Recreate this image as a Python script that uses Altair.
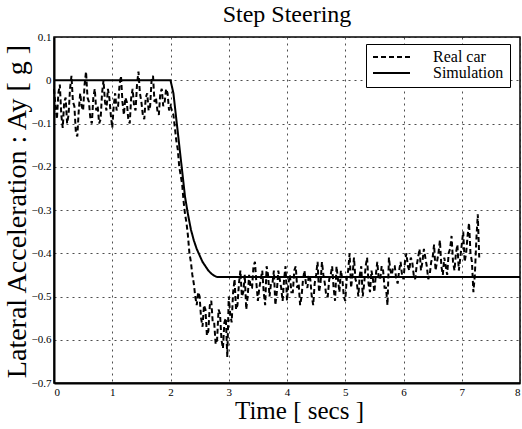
import altair as alt
import pandas as pd

# Real car measurement (time step 0.025 s from 0.000 to 7.300 s)
real_t0 = 0.0
real_dt = 0.025
real_vals = [
    -0.02, -0.06, -0.09, -0.03, -0.01, -0.08, -0.11, -0.05, -0.04, -0.10,
    -0.08, -0.02, 0.01, -0.05, -0.06, -0.12, -0.13, -0.07, -0.03, -0.06,
    -0.07, -0.01, 0.02, -0.04, -0.05, -0.09, -0.10, -0.04, -0.02, -0.07,
    -0.06, -0.10, -0.09, -0.03, 0.00, -0.05, -0.07, -0.02, -0.04, -0.08,
    -0.11, -0.06, -0.03, -0.07, -0.06, -0.01, 0.01, -0.05, -0.08, -0.04,
    -0.05, -0.09, -0.10, -0.04, -0.02, -0.06, -0.07, -0.01, 0.02, -0.03,
    -0.05, -0.08, -0.09, -0.04, -0.03, -0.07, -0.06, 0.00, 0.01, -0.05,
    -0.04, -0.07, -0.08, -0.03, -0.02, -0.06, -0.05, -0.02, -0.03, -0.07,
    -0.06, -0.07, -0.08, -0.11, -0.14, -0.16, -0.20, -0.22, -0.24, -0.28,
    -0.31, -0.33, -0.36, -0.40, -0.42, -0.45, -0.47, -0.50, -0.52, -0.49,
    -0.50, -0.55, -0.57, -0.52, -0.53, -0.59, -0.58, -0.52, -0.51, -0.56,
    -0.56, -0.61, -0.60, -0.53, -0.54, -0.60, -0.62, -0.56, -0.55, -0.64,
    -0.50, -0.54, -0.56, -0.49, -0.46, -0.53, -0.52, -0.47, -0.44, -0.50,
    -0.49, -0.45, -0.53, -0.50, -0.45, -0.48, -0.48, -0.43, -0.42, -0.47,
    -0.51, -0.48, -0.46, -0.44, -0.49, -0.52, -0.43, -0.45, -0.50, -0.47,
    -0.47, -0.44, -0.52, -0.49, -0.44, -0.46, -0.48, -0.51, -0.46, -0.43,
    -0.51, -0.47, -0.45, -0.49, -0.49, -0.44, -0.43, -0.48, -0.47, -0.52,
    -0.50, -0.46, -0.44, -0.47, -0.48, -0.45, -0.46, -0.50, -0.52, -0.47,
    -0.45, -0.42, -0.49, -0.47, -0.42, -0.45, -0.47, -0.50, -0.50, -0.46,
    -0.45, -0.43, -0.48, -0.51, -0.43, -0.46, -0.49, -0.44, -0.46, -0.50,
    -0.51, -0.46, -0.44, -0.40, -0.48, -0.45, -0.41, -0.46, -0.47, -0.50,
    -0.45, -0.43, -0.50, -0.47, -0.43, -0.41, -0.47, -0.49, -0.44, -0.46,
    -0.49, -0.45, -0.42, -0.46, -0.46, -0.43, -0.44, -0.48, -0.48, -0.52,
    -0.41, -0.44, -0.45, -0.43, -0.43, -0.46, -0.47, -0.44, -0.42, -0.45,
    -0.46, -0.42, -0.40, -0.43, -0.44, -0.41, -0.42, -0.45, -0.46, -0.43,
    -0.41, -0.39, -0.44, -0.42, -0.39, -0.41, -0.43, -0.46, -0.45, -0.42,
    -0.41, -0.38, -0.44, -0.42, -0.40, -0.37, -0.43, -0.45, -0.41, -0.43,
    -0.45, -0.40, -0.39, -0.36, -0.42, -0.44, -0.40, -0.38, -0.44, -0.41,
    -0.38, -0.35, -0.42, -0.40, -0.36, -0.33, -0.40, -0.42, -0.49, -0.45,
    -0.37, -0.31, -0.41,
]

# Simulation
sim_t = [0.0, 2.0, 2.05, 2.10, 2.15, 2.20, 2.25, 2.30, 2.35, 2.40, 2.45,
         2.50, 2.55, 2.60, 2.65, 2.70, 2.75, 2.80, 8.0]
sim_vals = [0.0, 0.0, -0.03, -0.09, -0.15, -0.21, -0.27, -0.31, -0.345, -0.37,
            -0.39, -0.405, -0.42, -0.43, -0.44, -0.447, -0.452, -0.455, -0.455]

x_ticks = [0, 1, 2, 3, 4, 5, 6, 7, 8]
y_ticks = [0.1, 0.0, -0.1, -0.2, -0.3, -0.4, -0.5, -0.6, -0.7]
series_names = ["Real car", "Simulation"]

rows = []
for i, v in enumerate(real_vals):
    rows.append({"t": round(real_t0 + i * real_dt, 4), "ay": v, "series": series_names[0], "order": i})
for i, (t, v) in enumerate(zip(sim_t, sim_vals)):
    rows.append({"t": t, "ay": v, "series": series_names[1], "order": i})
df = pd.DataFrame(rows)

font = "Liberation Serif"

chart = alt.Chart(df).mark_line(color="black", strokeWidth=2).encode(
    x=alt.X("t:Q", scale=alt.Scale(domain=[0, 8], nice=False),
            axis=alt.Axis(values=x_ticks, title="Time [ secs ]", format="d",
                          titleX=245, titleY=35, titleBaseline="alphabetic",
                          titleFontSize=25)),
    y=alt.Y("ay:Q", scale=alt.Scale(domain=[-0.7, 0.1], nice=False),
            axis=alt.Axis(values=y_ticks, title="Lateral Acceleration : Ay [ g ]",
                          labelExpr="datum.value == 0 ? '0' : format(datum.value, '.1f')",
                          titleX=-29, titleY=174, titleBaseline="alphabetic",
                          titleFontSize=28)),
    strokeDash=alt.StrokeDash("series:N",
                              scale=alt.Scale(domain=series_names, range=[[5, 3], [1, 0]]),
                              legend=alt.Legend(title=None, orient="none", legendX=312, legendY=7,
                                                symbolType="stroke", symbolSize=1369,
                                                symbolStrokeWidth=2, symbolStrokeColor="black",
                                                labelFont=font, labelFontSize=16, labelColor="black",
                                                fillColor="white", strokeColor="black",
                                                padding=6, rowPadding=0, clipHeight=14,
                                                labelOffset=22)),
    detail="series:N",
    order="order:Q",
).properties(
    width=466, height=346,
    title=alt.TitleParams("Step Steering", font=font, fontSize=24, fontWeight="normal",
                          color="black", offset=4),
    autosize=alt.AutoSizeParams(type="none"),
    padding={"left": 54, "top": 37, "right": 2, "bottom": 46},
).configure_title(
    font=font
).configure_view(
    stroke="black", strokeWidth=1.5
).configure_axis(
    labelFont=font, labelFontSize=11, labelColor="black",
    titleFont=font, titleFontWeight="normal", titleColor="black",
    domainColor="black", domainWidth=2, ticks=False, labelPadding=3,
    grid=True, gridColor="#222222", gridDash=[2, 4], gridWidth=1, gridOpacity=0.8,
)

chart.save("out.html", embed_options={"renderer": "svg", "actions": False})
